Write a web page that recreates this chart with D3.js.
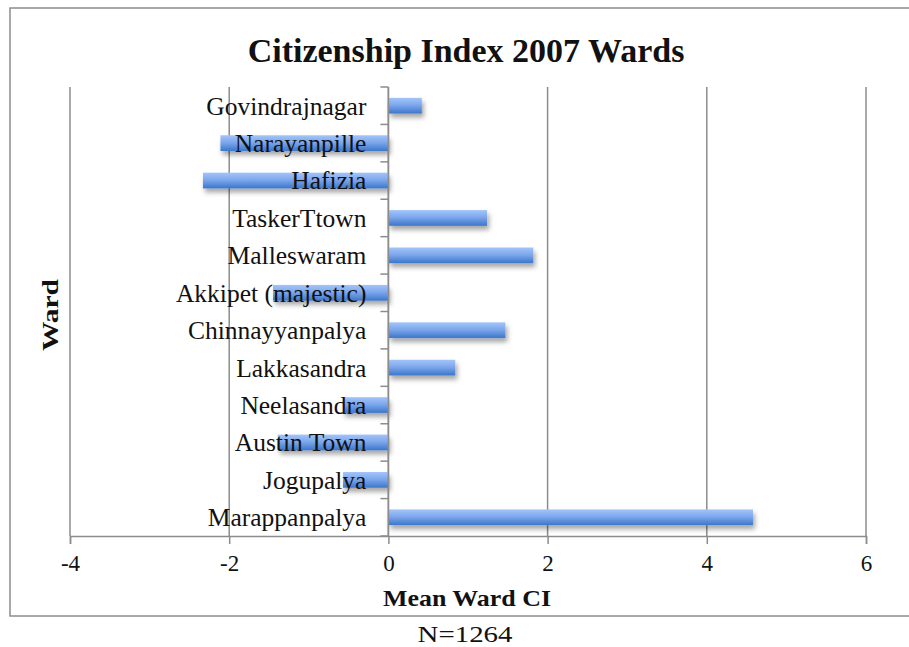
<!DOCTYPE html>
<html>
<head>
<meta charset="utf-8">
<script src="https://cdn.jsdelivr.net/npm/d3@7"></script>
<style>
  body { margin: 0; background: #fff; }
  text { font-family: "Liberation Serif", "DejaVu Serif", serif; fill: #111; }
</style>
</head>
<body>
<div id="chart"></div>
<script>
  // wards, top to bottom as shown
  const wards = [
    "Govindrajnagar", "Narayanpille", "Hafizia", "TaskerTtown", "Malleswaram",
    "Akkipet (majestic)", "Chinnayyanpalya", "Lakkasandra", "Neelasandra",
    "Austin Town", "Jogupalya", "Marappanpalya"
  ];
  const meanCI = [0.42, -2.11, -2.33, 1.24, 1.82, -1.45, 1.47, 0.84, -0.57, -1.39, -0.57, 4.58];
  const xTicks = [-4, -2, 0, 2, 4, 6];

  const width = 909, height = 647;
  const margin = { top: 87, right: 43, bottom: 111, left: 70 };

  const svg = d3.select('#chart')
    .append('svg')
    .attr('width', width)
    .attr('height', height);

  const defs = svg.append('defs');
  const grad = defs.append('linearGradient')
    .attr('id', 'barGrad')
    .attr('x1', 0).attr('y1', 0).attr('x2', 0).attr('y2', 1);
  grad.append('stop').attr('offset', '0%').attr('stop-color', '#a2c4fa');
  grad.append('stop').attr('offset', '45%').attr('stop-color', '#7ea8ec');
  grad.append('stop').attr('offset', '100%').attr('stop-color', '#3b76cb');

  const shadow = defs.append('filter')
    .attr('id', 'shadow')
    .attr('x', '-10%').attr('y', '-50%')
    .attr('width', '130%').attr('height', '250%');
  shadow.append('feDropShadow')
    .attr('dx', 2).attr('dy', 4)
    .attr('stdDeviation', 2.5)
    .attr('flood-color', '#000')
    .attr('flood-opacity', 0.35);

  // frame
  svg.append('rect')
    .attr('x', 10).attr('y', 8)
    .attr('width', 920).attr('height', 608)
    .attr('fill', 'none')
    .attr('stroke', '#8c8c8c')
    .attr('stroke-width', 1.5);

  const x = d3.scaleLinear()
    .domain([-4, 6])
    .range([margin.left, width - margin.right]);

  const y = d3.scaleBand()
    .domain(wards)
    .range([margin.top, height - margin.bottom])
    .paddingInner(0.58)
    .paddingOuter(0.29);

  const yTop = margin.top, yBot = height - margin.bottom;

  // vertical gridlines
  svg.append('g')
    .selectAll('line')
    .data(xTicks)
    .enter()
    .append('line')
    .attr('x1', d => x(d)).attr('x2', d => x(d))
    .attr('y1', yTop).attr('y2', yBot)
    .attr('stroke', '#8c8c8c')
    .attr('stroke-width', 1.5);

  // bars
  svg.append('g')
    .selectAll('rect')
    .data(wards)
    .enter()
    .append('rect')
    .attr('x', (d, i) => x(Math.min(0, meanCI[i])))
    .attr('y', d => y(d))
    .attr('width', (d, i) => Math.abs(x(meanCI[i]) - x(0)))
    .attr('height', y.bandwidth())
    .attr('fill', 'url(#barGrad)')
    .attr('filter', 'url(#shadow)');

  // x axis
  const xAxis = svg.append('g')
    .attr('transform', `translate(0, ${yBot})`)
    .call(d3.axisBottom(x).tickValues(xTicks).tickSize(8).tickPadding(11).tickFormat(d3.format('d')))
    .attr('font-family', 'Liberation Serif')
    .attr('font-size', 23);
  xAxis.select('.domain').attr('stroke', '#8c8c8c').attr('stroke-width', 1.5);
  xAxis.selectAll('.tick line').attr('stroke', '#8c8c8c').attr('stroke-width', 1.5);
  xAxis.selectAll('.tick text')
    .attr('font-family', 'Liberation Serif')
    .style('font-family', 'Liberation Serif')
    .style('fill', '#111')
    .text(d => d < 0 ? '-' + Math.abs(d) : d);

  // y axis at zero, ticks between wards
  const boundaries = d3.range(wards.length).map(i => y(wards[i]) - y.step() * y.paddingInner() / 2);
  boundaries.push(yBot);
  svg.append('line')
    .attr('x1', x(0)).attr('x2', x(0))
    .attr('y1', yTop).attr('y2', yBot)
    .attr('stroke', '#8c8c8c')
    .attr('stroke-width', 1.5);
  svg.append('g')
    .selectAll('line')
    .data(boundaries)
    .enter()
    .append('line')
    .attr('x1', x(0) - 8).attr('x2', x(0))
    .attr('y1', d => d).attr('y2', d => d)
    .attr('stroke', '#8c8c8c')
    .attr('stroke-width', 1.5);

  // ward labels (drawn over bars)
  svg.append('g')
    .selectAll('text')
    .data(wards)
    .enter()
    .append('text')
    .attr('x', x(0) - 22)
    .attr('y', d => y(d) + y.bandwidth() / 2)
    .attr('dy', '0.35em')
    .attr('text-anchor', 'end')
    .style('font-size', '25.5px')
    .text(d => d);

  // title
  svg.append('text')
    .attr('x', 466).attr('y', 62)
    .attr('text-anchor', 'middle')
    .style('font-size', '34px')
    .style('font-weight', 'bold')
    .text('Citizenship Index 2007 Wards');

  svg.append('text')
    .attr('x', 467).attr('y', 606)
    .attr('text-anchor', 'middle')
    .attr('textLength', 168)
    .attr('lengthAdjust', 'spacingAndGlyphs')
    .style('font-size', '23px')
    .style('font-weight', 'bold')
    .text('Mean Ward CI');

  svg.append('text')
    .attr('transform', 'translate(58, 315) rotate(-90)')
    .attr('text-anchor', 'middle')
    .attr('textLength', 72)
    .attr('lengthAdjust', 'spacingAndGlyphs')
    .style('font-size', '23px')
    .style('font-weight', 'bold')
    .text('Ward');

  svg.append('text')
    .attr('x', 465).attr('y', 642)
    .attr('text-anchor', 'middle')
    .attr('textLength', 95)
    .attr('lengthAdjust', 'spacingAndGlyphs')
    .style('font-size', '24px')
    .text('N=1264');
</script>
</body>
</html>
